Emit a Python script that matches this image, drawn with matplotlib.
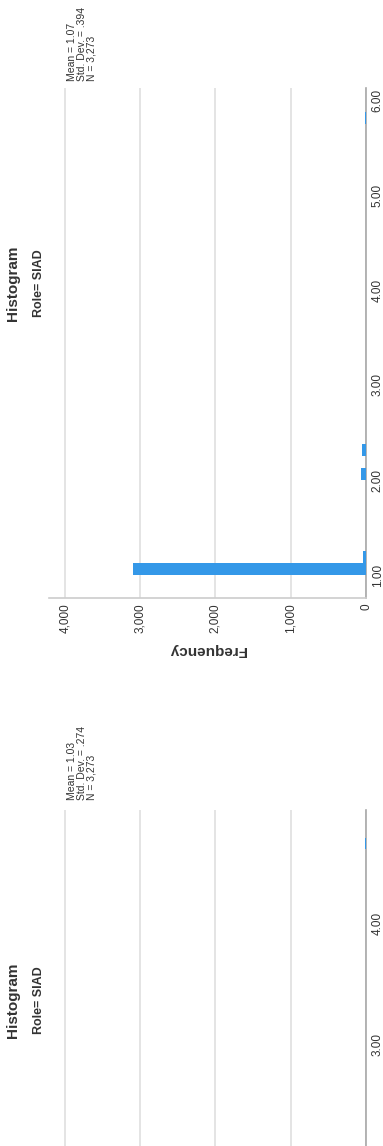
import matplotlib.pyplot as plt
from matplotlib.ticker import FuncFormatter

plt.rcParams['font.family'] = ['Liberation Sans', 'DejaVu Sans']

W, H, DPI = 383, 1146, 100

# first panel: bin lower edges (score) and counts
bins_a = [1.000, 1.125, 2.000, 2.250, 5.750]
counts_a = [3098, 45, 60, 55, 15]
width_a = 0.125
stats_a = ['Mean = 1.07', 'Std. Dev. = .394', 'N = 3,273']
score_ticks_a = [1, 2, 3, 4, 5, 6]

# second panel (only its upper part is on the page)
bins_b = [4.61]
counts_b = [15]
width_b = 0.09
stats_b = ['Mean = 1.03', 'Std. Dev. = .274', 'N = 3,273']
score_ticks_b = [3, 4]

freq_ticks = [0, 1000, 2000, 3000, 4000]

BAR = '#3498e8'
GRID = '#dcdcdc'
TEXT = '#333333'


def px_rect(x0, y0, x1, y1):
    """Axes rectangle from pixel edges measured from the top-left corner."""
    return [x0 / W, 1 - y1 / H, (x1 - x0) / W, (y1 - y0) / H]


def draw_panel(ax, lo, counts, width, ylim, score_ticks):
    ax.barh(lo, counts, height=width, align='edge', color=BAR,
            edgecolor='none', zorder=3)
    ax.set_xticks(freq_ticks)
    ax.xaxis.set_major_formatter(FuncFormatter(lambda v, p: f'{int(v):,}'))
    ax.set_yticks(score_ticks)
    ax.set_yticklabels([f'{t:.2f}' for t in score_ticks])
    # limits after the ticks, otherwise set_yticks widens the view
    ax.set_xlim(4210, 0)
    ax.set_ylim(*ylim)
    ax.yaxis.tick_right()
    ax.grid(axis='x', color=GRID, lw=1.1, zorder=0)
    ax.tick_params(length=0, labelsize=8.5, colors=TEXT)
    ax.tick_params(axis='x', pad=4, labelrotation=90)
    ax.tick_params(axis='y', pad=4, labelrotation=90)
    for lbl in ax.get_yticklabels():
        lbl.set_verticalalignment('center')
    for lbl in ax.get_xticklabels():
        lbl.set_verticalalignment('top')
    for side in ('top', 'left'):
        ax.spines[side].set_visible(False)
    ax.spines['right'].set_color('#a8a8a8')
    ax.spines['right'].set_linewidth(1.2)
    ax.spines['bottom'].set_color('#cccccc')
    ax.spines['bottom'].set_linewidth(1.2)


def annotate(fig, title_y, stats, stats_bottom):
    fig.text(13 / W, 1 - title_y / H, 'Histogram', rotation=90,
             ha='center', va='center', fontsize=11, fontweight='bold',
             color=TEXT)
    fig.text(39 / W, 1 - title_y / H, 'Role= SIAD', rotation=90,
             ha='center', va='center', fontsize=9, fontweight='bold',
             color=TEXT)
    for i, line in enumerate(stats):
        fig.text((72 + 10 * i) / W, 1 - stats_bottom / H, line, rotation=90,
                 ha='center', va='bottom', fontsize=7.5, color=TEXT)


fig = plt.figure(figsize=(W / DPI, H / DPI), dpi=DPI)

ax1 = fig.add_axes(px_rect(49, 88, 366, 598))
draw_panel(ax1, bins_a, counts_a, width_a, (0.758, 6.126), score_ticks_a)
ax1.set_xlabel('Frequency', rotation=180, fontsize=11, fontweight='bold',
               color=TEXT, labelpad=7)
annotate(fig, 283, stats_a, 81)

# the frequency axis of this panel falls below the page edge
ax2 = fig.add_axes(px_rect(49, 810, 366, 1330))
draw_panel(ax2, bins_b, counts_b, width_b, (0.664, 4.926), score_ticks_b)
ax2.tick_params(axis='x', labelbottom=False)
annotate(fig, 1000, stats_b, 800)

fig.savefig('out.png', dpi=DPI)
